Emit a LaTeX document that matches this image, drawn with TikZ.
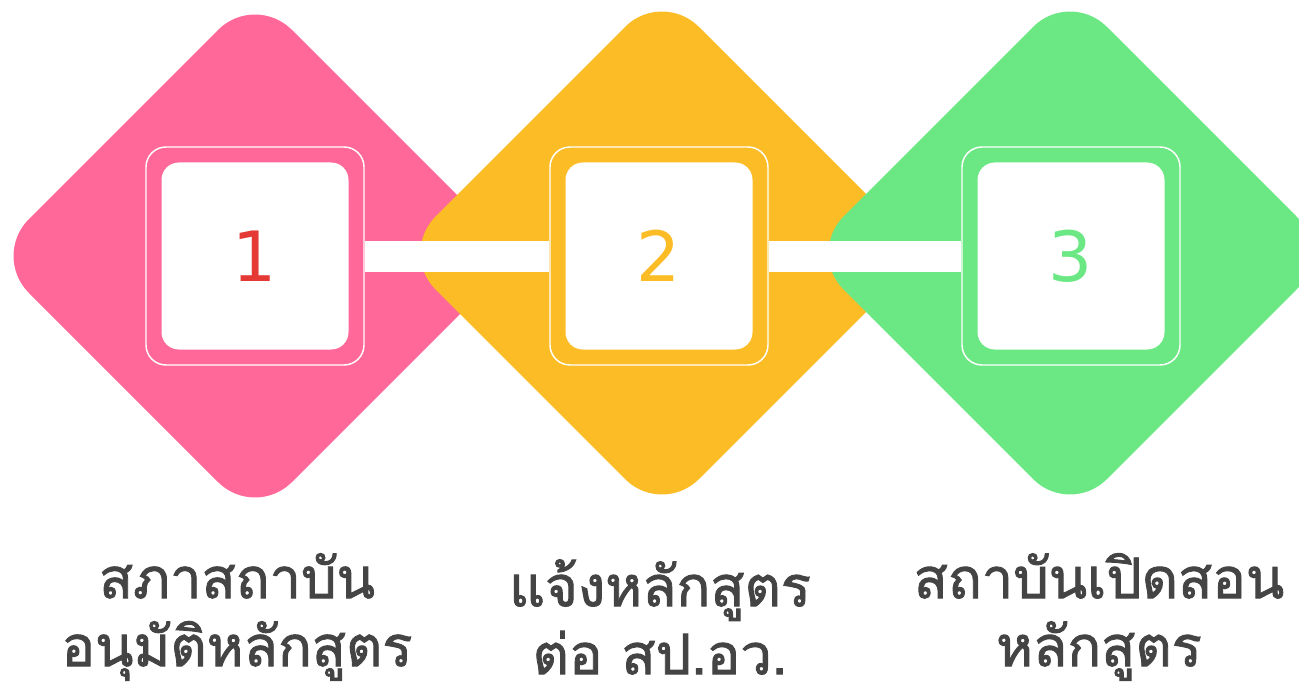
\documentclass[tikz,border=0pt]{standalone}
\usepackage{fontspec}
\usepackage{xcolor}
\usepackage{tikz}
\usetikzlibrary{positioning,calc}
\newfontfamily\thaifont[Script=Thai,FakeBold=1.6]{Loma}
\newfontfamily\numfont{DejaVu Sans}
\definecolor{pinkfill}{HTML}{FF6899}
\definecolor{yellowfill}{HTML}{FBBC26}
\definecolor{greenfill}{HTML}{6BE884}
\definecolor{onered}{HTML}{E53935}
\definecolor{labelgray}{HTML}{444444}
\tikzset{rdiamond/.style={rounded corners=39pt}}
\tikzset{outerbox/.style={draw=white, line width=1.1pt, minimum size=163.5pt, rounded corners=15pt, inner sep=0pt}}
\tikzset{innerbox/.style={fill=white, minimum size=140.25pt, rounded corners=13pt, inner sep=0pt, font=\numfont\fontsize{52}{52}\selectfont}}
\tikzset{link/.style={white, line width=23.25pt}}
\tikzset{steplabel/.style={align=center, inner sep=0pt, text=labelgray, font=\thaifont\fontsize{42}{51}\selectfont}}

\begin{document}
\begin{tikzpicture}[x=0.75pt, y=-0.75pt]
	\useasboundingbox (0,0) rectangle (1299,688);
	\clip (0,0) rectangle (1299,688);
	% the three rounded diamonds
	\fill [pinkfill, rdiamond] (-8,256) -- (255,-7) -- (518,256) -- (255,519) -- cycle;
	\fill [yellowfill, rdiamond] (399,253) -- (662,-10) -- (925,253) -- (662,516) -- cycle;
	\fill [greenfill, rdiamond] (807,253) -- (1070,-10) -- (1333,253) -- (1070,516) -- cycle;
	% frames and numbers
	\node [outerbox] (frame1) at (255,256) {};
	\node [outerbox] (frame2) at (659,256) {};
	\node [outerbox] (frame3) at (1071,256) {};
	\draw [link] (frame1.east) -- (frame2.west);
	\draw [link] (frame2.east) -- (frame3.west);
	\node [innerbox, text=onered] (num1) at (frame1) {1};
	\node [innerbox, text=yellowfill] (num2) at (frame2) {2};
	\node [innerbox, text=greenfill] (num3) at (frame3) {3};
	% labels below
	\node [steplabel] (label1) at (237,617) {สภาสถาบัน\\อนุมัติหลักสูตร};
	\node [steplabel] (label2) at (660,617) {แจ้งหลักสูตร\\ต่อ สป.อว.};
	\node [steplabel] (label3) at (1099,617) {สถาบันเปิดสอน\\หลักสูตร};
\end{tikzpicture}
\end{document}
